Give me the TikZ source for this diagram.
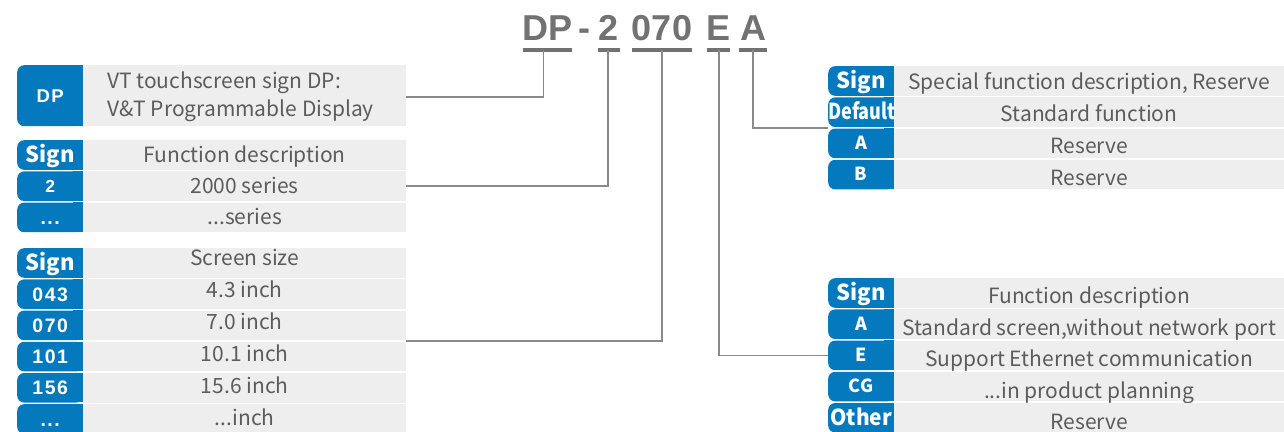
\documentclass[tikz,border=0pt]{standalone}
\usepackage{fontspec}
\usepackage{graphicx}
\setmainfont{Noto Sans CJK SC}
\newfontfamily\arialf{Liberation Sans}
\newfontfamily\arialsp{Liberation Sans}[LetterSpace=8]
\usetikzlibrary{calc}
\definecolor{signblue}{HTML}{0579BD}
\definecolor{cellgrey}{HTML}{EEEEEE}
\definecolor{txtgrey}{HTML}{5C5C5C}
\definecolor{titlegrey}{HTML}{727272}
\definecolor{linegrey}{HTML}{8A8A8A}
\tikzset{
  greycell/.style={fill=cellgrey, anchor=north west, inner sep=0pt, text=txtgrey,
    font=\fontsize{21}{25}\selectfont, text height=14pt, text depth=0pt},
  signcell/.style={fill=signblue, rounded corners=7pt, anchor=north west, inner sep=0pt, text=white},
  lblS/.style={font=\fontsize{22}{26}\selectfont\bfseries, text height=15pt, text depth=0pt},
  lblL/.style={font=\fontsize{18}{22}\selectfont\bfseries, text height=12pt, text depth=0pt},
  lblA/.style={font=\arialsp\fontsize{19.5}{23}\selectfont\bfseries, text height=14pt, text depth=0pt},
  titletxt/.style={font=\arialf\fontsize{36}{40}\selectfont\bfseries, text=titlegrey, inner sep=0pt, anchor=base},
  uline/.style={draw=titlegrey, line width=4pt},
  conn/.style={draw=linegrey, line width=1.5pt},
}
\def\toff{0pt}
% #1 name, #2 xa, #3 xb, #4 xc, #5 ytop, #6 height, #7 label style, #8 label, #9 text
\newcommand\trow[9]{%
  \fill[signblue] ({#3-10},#5) rectangle (#3,{#5+#6});
  \node[signcell, #7, minimum width={#3-#2}, minimum height=#6] (#1s) at (#2,#5) {#8};
  \node[greycell, minimum width={#4-#3}, minimum height=#6] (#1) at (#3,#5) {\raisebox{\toff}{#9}};
}
\begin{document}
\begin{tikzpicture}[x=1pt,y=-1pt]
\useasboundingbox (0,0) rectangle (1284,431);
% title
\node[titletxt] (tDP) at (547.5,40) {DP};
\node[titletxt] (tdash) at (584,40) {-};
\node[titletxt] (t2) at (609,40) {2};
\node[titletxt] (t070) at (662,40) {070};
\node[titletxt] (tE) at (718.5,40) {E};
\node[titletxt] (tA) at (753.5,40) {A};
\draw[uline] (523,50) -- (572,50);
\draw[uline] (598,50) -- (620,50);
\draw[uline] (632,50) -- (692,50);
\draw[uline] (707,50) -- (730,50);
\draw[uline] (739,50) -- (767,50);
\coordinate (uDP) at (543.5,50);
\coordinate (u2) at (608,50);
\coordinate (u070) at (662,50);
\coordinate (uE) at (719,50);
\coordinate (uA) at (753,50);
% left block 1
\trow{rDP}{17}{83}{406}{65}{61}{lblA, font=\arialsp\fontsize{18.5}{22}\selectfont\bfseries, text height=13pt}{DP}{}
\node[text=txtgrey, font=\fontsize{21}{28}\selectfont, anchor=west, align=left, inner sep=0pt] (dpdesc) at (107,97) {VT touchscreen sign DP:\\V\&T Programmable Display};
% left block 2
\trow{rS1}{17}{83}{406}{140}{29.6}{lblS}{Sign}{Function description}
\trow{r2}{17}{83}{406}{171.2}{29.6}{lblA, font=\arialsp\fontsize{17.5}{21}\selectfont\bfseries, text height=13pt}{2}{2000 series}
\trow{r2x}{17}{83}{406}{202.4}{29.6}{lblA}{...}{...series}
% left block 3
\def\toff{5pt}\trow{rS2}{17}{83}{406}{248}{29.6}{lblS}{Sign}{Screen size}
\def\toff{4pt}\trow{r043}{17}{83}{406}{279.2}{29.6}{lblA}{043}{4.3 inch}
\def\toff{3pt}\trow{r070}{17}{83}{406}{310.4}{29.6}{lblA}{070}{7.0 inch}
\def\toff{2pt}\trow{r101}{17}{83}{406}{341.6}{29.6}{lblA}{101}{10.1 inch}
\def\toff{1pt}\trow{r156}{17}{83}{406}{372.8}{29.6}{lblA}{156}{15.6 inch}
\def\toff{1pt}\trow{r0x}{17}{83}{406}{404}{29.6}{lblA}{...}{...inch}
% right block 1
\def\toff{-1pt}\trow{rS3}{828}{894}{1284}{66}{29.6}{lblS}{Sign}{Special function description, Reserve}
\def\toff{-2pt}\trow{rDef}{828}{894}{1284}{97.2}{29.6}{lblS}{\scalebox{0.82}[1]{Default}}{Standard function}
\def\toff{-3pt}\trow{rA1}{828}{894}{1284}{128.4}{29.6}{lblL}{A}{Reserve}
\def\toff{-4pt}\trow{rB1}{828}{894}{1284}{159.6}{29.6}{lblL}{B}{Reserve}
% right block 2
\def\toff{-3pt}\trow{rS4}{828}{894}{1284}{278}{29.6}{lblS}{Sign}{Function description}
\def\toff{-4pt}\trow{rA2}{828}{894}{1284}{309.2}{29.6}{lblL}{A}{Standard screen,without network port}
\def\toff{-4pt}\trow{rE}{828}{894}{1284}{340.4}{29.6}{lblL}{E}{Support Ethernet communication}
\def\toff{-5pt}\trow{rCG}{828}{894}{1284}{371.6}{29.6}{lblL}{CG}{...in product planning}
\def\toff{-5pt}\trow{rOth}{828}{894}{1284}{402.8}{29.6}{lblS}{\scalebox{0.95}[1]{Other}}{Reserve}
% connectors
\draw[conn] (uDP) |- ($(rDP.east)+(0,1.5)$);
\draw[conn] (u2) |- (r2.east);
\draw[conn] (u070) |- ($(r070.south east)!0.5!(r101.north east)$);
\draw[conn] (uE) |- (rEs.west);
\draw[conn] (uA) |- ($(rDefs.south west)!0.5!(rA1s.north west)$);
\end{tikzpicture}
\end{document}
